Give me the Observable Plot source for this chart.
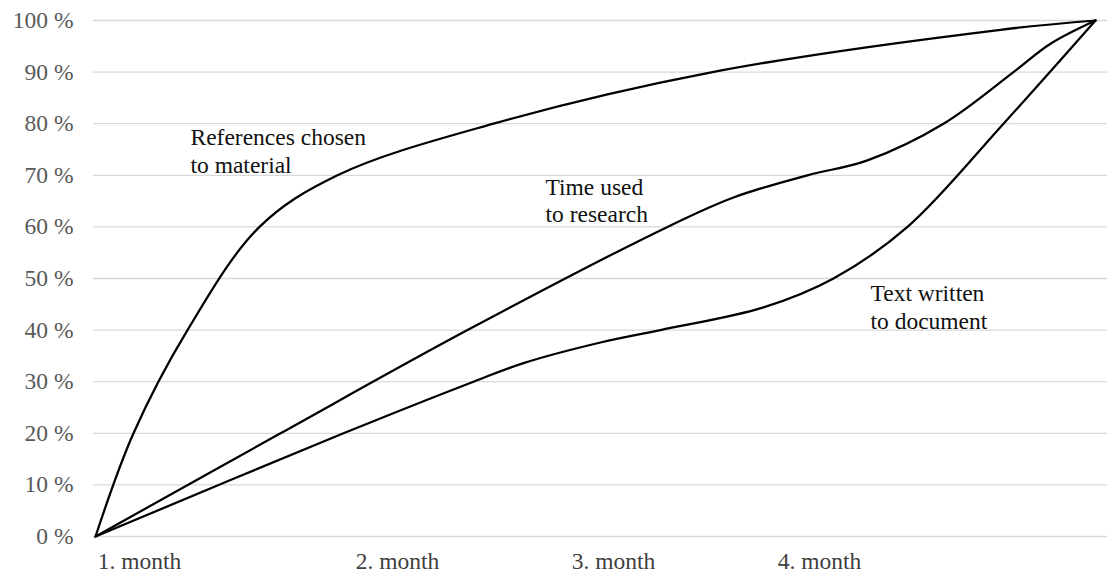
<!DOCTYPE html>
<html>
<head>
<meta charset="utf-8">
<script src="https://cdn.jsdelivr.net/npm/d3@7"></script>
<script src="https://cdn.jsdelivr.net/npm/@observablehq/plot@0.6"></script>
<style>
  html, body { margin: 0; padding: 0; background: #fff; }
  svg { display: block; }
  #chart svg, #chart svg text { font-family: "Liberation Serif", "Times New Roman", serif !important; }
</style>
</head>
<body>
<div id="chart"></div>
<script>
// ---- Data (x in months from start, y in percent) ----
const seriesNames = ["References chosen to material", "Time used to research", "Text written to document"];

const refsX = [0, 0.152, 0.368, 0.656, 0.968, 1.592, 2.468, 3.62, 4];
const refsY = [0, 20, 40, 60, 70, 80, 90, 98.2, 100];

const timeX = [0, 0.74, 1.488, 2.288, 2.552, 2.848, 3.088, 3.392, 3.672, 3.82, 4];
const timeY = [0, 20, 40, 60, 65.7, 70, 72.9, 80, 90, 95.5, 100];

const textX = [0, 0.992, 1.512, 1.712, 2.02, 2.26, 2.672, 2.952, 3.248, 3.632, 4];
const textY = [0, 20, 30, 33.6, 37.6, 40, 44.4, 50, 60, 80, 100];

const yTicks = [0, 10, 20, 30, 40, 50, 60, 70, 80, 90, 100];
const monthLabels = ["1. month", "2. month", "3. month", "4. month"];
const monthTicks = [0.176, 1.208, 2.072, 2.896];

const labelTexts = ["References chosen\nto material", "Time used\nto research", "Text written\nto document"];
const labelX = [0.38, 1.8, 3.1];
const labelY = [70.5, 60.9, 40.3];

// ---- Build tables ----
const seriesXs = [refsX, timeX, textX];
const seriesYs = [refsY, timeY, textY];
const rows = seriesNames.flatMap((name, s) =>
  seriesXs[s].map((x, i) => ({series: name, t: x, v: seriesYs[s][i]}))
);
const annotations = labelTexts.map((text, i) => ({text, x: labelX[i], y: labelY[i]}));

const serif = "Liberation Serif";
const chart = Plot.plot({
  width: 1107,
  height: 577,
  marginLeft: 93,
  marginRight: 0,
  marginTop: 20,
  marginBottom: 41,
  style: {fontFamily: serif, fontSize: "23.5px", background: "#fff"},
  x: {domain: [0, 4], range: [95, 1095]},
  y: {domain: [0, 100]},
  marks: [
    Plot.ruleY(yTicks, {stroke: "#d9d9d9", strokeWidth: 1.3}),
    Plot.axisY({ticks: yTicks, tickSize: 0, tickPadding: 20, tickFormat: d => `${d} %`, fill: "#595959", fontFamily: serif, label: null}),
    Plot.axisX({ticks: monthTicks, tickSize: 0, tickPadding: 16, tickFormat: d => monthLabels[monthTicks.indexOf(d)], fill: "#404040", fontFamily: serif, label: null}),
    Plot.line(rows, {x: "t", y: "v", z: "series", curve: "catmull-rom", stroke: "#000", strokeWidth: 2.25}),
    Plot.text(annotations, {x: "x", y: "y", text: "text", textAnchor: "start", lineAnchor: "bottom", lineHeight: 1.17, fill: "#111", fontFamily: serif})
  ]
});
document.getElementById("chart").appendChild(chart);
</script>
</body>
</html>
